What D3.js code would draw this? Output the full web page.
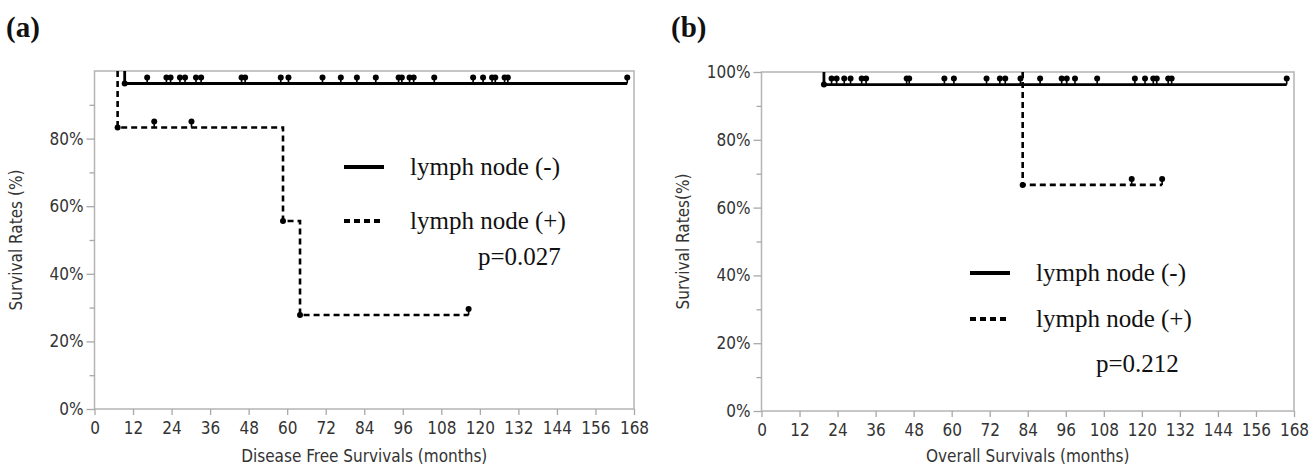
<!DOCTYPE html>
<html>
<head>
<meta charset="utf-8">
<script src="https://cdn.jsdelivr.net/npm/d3@7"></script>
<style>
  body { margin: 0; background: #fff; }
  svg { display: block; }
  .axis text { font-family: "DejaVu Sans", sans-serif; font-stretch: condensed; font-size: 17px; fill: #333; }
  .axis line { stroke: #a8a8a8; stroke-width: 1.3; }
  .axis path { display: none; }
  .title { font-family: "DejaVu Sans", sans-serif; font-stretch: condensed; font-size: 17px; fill: #333; }
  .legend { font-family: "Liberation Serif", "Times New Roman", serif; font-size: 25px; fill: #111; }
  .panel { font-family: "Liberation Serif", "Times New Roman", serif; font-weight: bold; font-size: 29px; fill: #111; }
</style>
</head>
<body>
<svg id="chart" width="1309" height="468"></svg>
<script>
// x axis ticks (months)
const monthTicks = [0, 12, 24, 36, 48, 60, 72, 84, 96, 108, 120, 132, 144, 156, 168]

// (a) disease free survival
const dfsNegEventTimes = [9.4]
const dfsNegSurv = [0.963]
const dfsNegCensor = [16.4, 22.4, 23.7, 26.6, 28.2, 31.6, 33.2, 45.8, 46.9, 58.0, 60.4, 71.0, 76.7,
  81.7, 87.6, 94.7, 95.7, 98.1, 99.4, 105.8, 117.9, 121.0, 123.8, 124.8, 127.7, 128.7, 165.9]
const dfsPosEventTimes = [7.2, 58.7, 64.0]
const dfsPosSurv = [0.833, 0.556, 0.278]
const dfsPosCensor = [18.6, 30.2, 116.5]

// (b) overall survival
const osNegEventTimes = [19.7]
const osNegSurv = [0.963]
const osNegCensor = [22.1, 23.7, 26.1, 28.1, 31.6, 33.0, 45.8, 46.6, 57.7, 60.7, 71.0, 75.2, 76.9,
  81.7, 87.9, 94.7, 96.3, 98.9, 105.9, 117.8, 121.0, 123.6, 124.7, 128.3, 129.4, 165.7]
const osPosEventTimes = [82.4]
const osPosSurv = [0.667]
const osPosCensor = [116.8, 126.4]

const legendLabels = ['lymph node (-)', 'lymph node (+)']

const svg = d3.select('#chart')

function survAt(times, surv, t) {
  let s = 1
  times.forEach((et, i) => { if (et <= t) s = surv[i] })
  return s
}

function drawPanel(o) {
  const x = d3.scaleLinear().domain([0, 168]).range([o.left, o.right])
  const y = d3.scaleLinear().domain([0, 1]).range([o.bottom, o.top])
  const g = svg.append('g')

  // frame
  g.append('rect')
    .attr('x', o.left).attr('y', o.top)
    .attr('width', o.right - o.left).attr('height', o.bottom - o.top)
    .attr('fill', 'none').attr('stroke', '#b4b4b4').attr('stroke-width', 1.5)

  // axes
  g.append('g').attr('class', 'axis')
    .attr('transform', `translate(0,${o.bottom})`)
    .call(d3.axisBottom(x).tickValues(monthTicks).tickSize(6).tickPadding(7))

  g.append('g').attr('class', 'axis')
    .attr('transform', `translate(${o.left},0)`)
    .call(d3.axisLeft(y).tickValues(o.yTicks).tickSize(8).tickPadding(3).tickFormat(d3.format('.0%')))

  g.append('g').attr('class', 'axis')
    .attr('transform', `translate(${o.left},0)`)
    .call(d3.axisLeft(y).tickValues([0.1, 0.3, 0.5, 0.7, 0.9]).tickSize(5).tickFormat(''))

  g.append('text').attr('class', 'title')
    .attr('x', (o.left + o.right) / 2).attr('y', 462)
    .attr('text-anchor', 'middle').text(o.xTitle)

  g.append('text').attr('class', 'title')
    .attr('transform', `translate(${o.yTitleX},${(o.top + o.bottom) / 2}) rotate(-90)`)
    .attr('text-anchor', 'middle').text(o.yTitle)

  g.append('text').attr('class', 'panel')
    .attr('x', o.labelX).attr('y', 37).text(o.label)

  // curves
  o.series.forEach(s => {
    let pts = []
    let prev = 1
    s.times.forEach((t, i) => {
      pts.push([t, prev])
      pts.push([t, s.surv[i]])
      prev = s.surv[i]
    })
    pts.push([d3.max(s.censor), prev])

    g.append('path')
      .attr('d', d3.line().x(d => x(d[0])).y(d => y(d[1]))(pts))
      .attr('fill', 'none').attr('stroke', '#000')
      .attr('stroke-width', s.dashed ? 2.6 : 2.8)
      .attr('stroke-dasharray', s.dashed ? '6,4' : null)

    // event dots
    g.selectAll(null).data(s.times).enter().append('circle')
      .attr('cx', (t) => x(t)).attr('cy', (t, i) => y(s.surv[i]))
      .attr('r', 3).attr('fill', '#000')

    // censor marks
    s.censor.forEach(t => {
      const cy = y(survAt(s.times, s.surv, t))
      g.append('line')
        .attr('x1', x(t)).attr('x2', x(t)).attr('y1', cy).attr('y2', cy - 6)
        .attr('stroke', '#000').attr('stroke-width', 1.6)
      g.append('circle').attr('cx', x(t)).attr('cy', cy - 6).attr('r', 3).attr('fill', '#000')
    })
  })

  // legend
  legendLabels.forEach((lab, i) => {
    const ly = o.legendY + i * o.legendGap
    g.append('line')
      .attr('x1', o.legendX).attr('x2', o.legendX + 40).attr('y1', ly).attr('y2', ly)
      .attr('stroke', '#000').attr('stroke-width', 4)
      .attr('stroke-dasharray', i == 1 ? '6,4' : null)
    g.append('text').attr('class', 'legend')
      .attr('x', o.legendX + 66).attr('y', ly + 8).text(lab)
  })
  g.append('text').attr('class', 'legend')
    .attr('x', o.pX).attr('y', o.pY).text(o.pText)
}

drawPanel({
  left: 94.5, right: 634, top: 71, bottom: 409,
  yTicks: [0, 0.2, 0.4, 0.6, 0.8],
  xTitle: 'Disease Free Survivals (months)',
  yTitle: 'Survival Rates (%)', yTitleX: 22,
  label: '(a)', labelX: 6,
  legendX: 344, legendY: 167, legendGap: 54, pX: 478, pY: 265, pText: 'p=0.027',
  series: [
    {times: dfsNegEventTimes, surv: dfsNegSurv, censor: dfsNegCensor, dashed: false},
    {times: dfsPosEventTimes, surv: dfsPosSurv, censor: dfsPosCensor, dashed: true}
  ]
})

drawPanel({
  left: 761.5, right: 1294, top: 72, bottom: 411,
  yTicks: [0, 0.2, 0.4, 0.6, 0.8, 1.0],
  xTitle: 'Overall Survivals (months)',
  yTitle: 'Survival Rates(%)', yTitleX: 689,
  label: '(b)', labelX: 671,
  legendX: 970, legendY: 273, legendGap: 46, pX: 1096, pY: 372, pText: 'p=0.212',
  series: [
    {times: osNegEventTimes, surv: osNegSurv, censor: osNegCensor, dashed: false},
    {times: osPosEventTimes, surv: osPosSurv, censor: osPosCensor, dashed: true}
  ]
})
</script>
</body>
</html>
